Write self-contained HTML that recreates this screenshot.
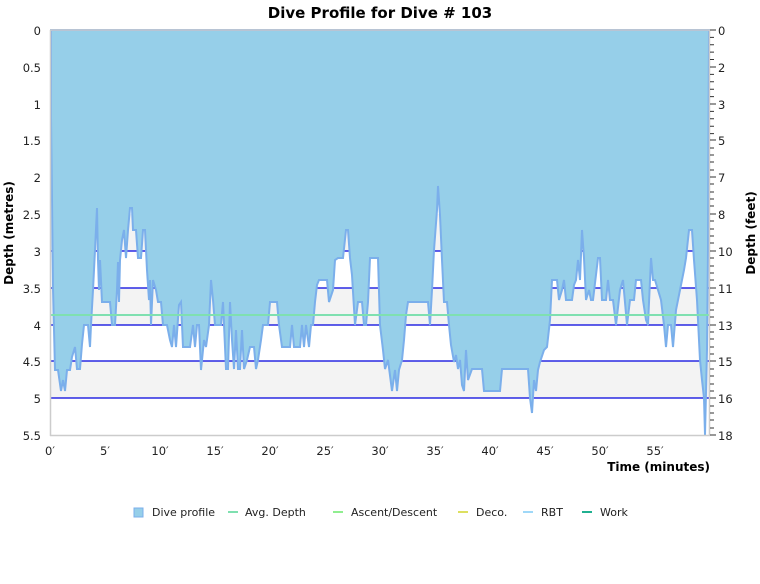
<!DOCTYPE html>
<html><head><meta charset="utf-8"><style>
body{margin:0;background:#fff;font-family:"DejaVu Sans","Liberation Sans",sans-serif;}
</style></head><body>
<svg width="760" height="580" xmlns="http://www.w3.org/2000/svg" font-family="DejaVu Sans, Liberation Sans, sans-serif">
<rect width="760" height="580" fill="#fff"/>
<text x="380" y="18" text-anchor="middle" font-size="15" font-weight="bold">Dive Profile for Dive # 103</text>
<rect x="51" y="214" width="658" height="37" fill="#f3f3f3"/>
<rect x="51" y="288" width="658" height="37" fill="#f3f3f3"/>
<rect x="51" y="361" width="658" height="37" fill="#f3f3f3"/>
<g stroke="#0000dd" stroke-width="1.3">
<line x1="51" y1="251" x2="709" y2="251"/><line x1="51" y1="288" x2="709" y2="288"/>
<line x1="51" y1="325" x2="709" y2="325"/><line x1="51" y1="361" x2="709" y2="361"/>
<line x1="51" y1="398" x2="709" y2="398"/>
</g>
<polygon fill="#96cfe9" stroke="#7bafeb" stroke-width="2" stroke-linejoin="miter" points="51,30 51,118 52,200 53,288 55,370 58,370 61,391 63,380 65,391 67,370 70,370 72,357 75,347 77,369 80,369 82,344 84,325 88,325 90,347 91,325 93,290 95,250 97,208 98,260 99,290 100,260 102,302 110,302 112,325 115,325 117,290 118,262 119,302 120,260 122,240 124,230 126,258 128,230 130,208 132,208 133,230 136,230 138,258 141,258 143,230 145,230 147,270 149,300 150,280 151,325 153,280 156,290 158,302 161,302 163,325 167,325 170,340 172,347 174,325 176,347 179,305 181,302 183,347 190,347 193,325 195,347 197,325 199,325 201,370 204,340 206,347 209,325 211,280 213,300 215,325 221,325 223,302 226,369 228,369 230,302 232,340 234,369 236,330 238,369 240,369 242,330 244,369 247,360 250,347 254,347 256,369 258,360 261,340 263,325 268,325 270,302 277,302 279,325 282,347 290,347 292,325 294,347 300,347 302,325 304,347 306,325 309,347 311,325 313,325 315,302 317,285 319,280 327,280 329,302 333,290 335,260 338,258 343,258 346,230 348,230 350,258 352,275 355,325 358,302 362,302 364,325 366,325 368,302 370,258 378,258 380,325 383,350 385,369 388,360 392,391 395,370 397,391 399,370 402,360 404,340 406,315 408,302 428,302 430,325 432,290 434,250 437,210 438,186 440,215 442,260 444,302 447,302 449,325 451,345 454,362 456,355 458,369 460,360 462,385 464,391 466,350 468,380 472,369 482,369 484,391 500,391 502,369 528,369 530,398 532,413 534,380 536,391 538,370 540,362 544,350 547,347 550,320 552,280 557,280 559,300 562,290 564,280 566,300 572,300 574,285 576,280 578,260 580,280 582,230 584,258 586,300 589,290 591,300 593,300 598,258 600,258 602,300 606,300 608,280 610,300 613,300 616,325 620,290 623,280 627,325 630,300 634,300 636,280 641,280 643,300 646,320 648,325 651,258 653,280 655,280 661,300 664,325 666,347 668,325 671,325 673,347 676,310 680,290 684,270 686,258 689,230 692,230 694,260 697,300 700,360 702,380 704,398 705,435 707,350 708,250 709,30"/>
<line x1="51" y1="315" x2="709" y2="315" stroke="#7fe0b0" stroke-width="2"/>
<g stroke="#ccc" stroke-width="1.5" fill="none">
<line x1="50.5" y1="30" x2="50.5" y2="436"/><line x1="50" y1="435.5" x2="710" y2="435.5"/>
<line x1="709.5" y1="30" x2="709.5" y2="436"/><line x1="50" y1="30" x2="710" y2="30"/>
</g>
<g font-size="11.5" fill="#222" text-anchor="end">
<text x="41" y="35">0</text><text x="41" y="72">0.5</text><text x="41" y="109">1</text>
<text x="41" y="145">1.5</text><text x="41" y="182">2</text><text x="41" y="219">2.5</text>
<text x="41" y="256">3</text><text x="41" y="293">3.5</text><text x="41" y="330">4</text>
<text x="41" y="366">4.5</text><text x="41" y="403">5</text><text x="41" y="440">5.5</text>
</g>
<g stroke="#333" stroke-width="1">
<path d="M710 30h6M710 67h6M710 104h6M710 140h6M710 177h6M710 214h6M710 251h6M710 288h6M710 325h6M710 361h6M710 398h6M710 435h6"/>
<path d="M710 37.4h4M710 44.7h4M710 52.1h4M710 59.5h4M710 74.4h4M710 81.8h4M710 89.2h4M710 96.6h4M710 111.4h4M710 118.8h4M710 126.2h4M710 133.6h4M710 148h4M710 155h4M710 162h4M710 170h4M710 184h4M710 192h4M710 199h4M710 206h4M710 221h4M710 229h4M710 236h4M710 243h4M710 258h4M710 266h4M710 273h4M710 280h4M710 295h4M710 303h4M710 310h4M710 317h4M710 332h4M710 339h4M710 347h4M710 354h4M710 369h4M710 376h4M710 384h4M710 391h4M710 406h4M710 413h4M710 420h4M710 428h4"/>
</g>
<g font-size="11.5" fill="#222">
<text x="718" y="35">0</text><text x="718" y="72">2</text><text x="718" y="109">3</text>
<text x="718" y="145">5</text><text x="718" y="182">7</text><text x="718" y="219">8</text>
<text x="718" y="256">10</text><text x="718" y="293">11</text><text x="718" y="330">13</text>
<text x="718" y="366">15</text><text x="718" y="403">16</text><text x="718" y="440">18</text>
</g>
<g font-size="11.5" fill="#222" text-anchor="middle">
<text x="50" y="455">0′</text><text x="105" y="455">5′</text><text x="160" y="455">10′</text>
<text x="215" y="455">15′</text><text x="270" y="455">20′</text><text x="325" y="455">25′</text>
<text x="380" y="455">30′</text><text x="435" y="455">35′</text><text x="490" y="455">40′</text>
<text x="545" y="455">45′</text><text x="600" y="455">50′</text><text x="655" y="455">55′</text>
</g>
<text x="710" y="471" text-anchor="end" font-size="12" font-weight="bold">Time (minutes)</text>
<text transform="translate(13,233) rotate(-90)" text-anchor="middle" font-size="12" font-weight="bold">Depth (metres)</text>
<text transform="translate(755,233) rotate(-90)" text-anchor="middle" font-size="12" font-weight="bold">Depth (feet)</text>
<g font-size="11" fill="#222">
<rect x="134" y="508" width="9" height="9" fill="#96cfe9" stroke="#7bafeb"/><text x="152" y="516">Dive profile</text>
<rect x="228" y="511" width="10" height="2" fill="#7fe0b0"/><text x="245" y="516">Avg. Depth</text>
<rect x="333" y="511" width="10" height="2" fill="#90ee90"/><text x="351" y="516">Ascent/Descent</text>
<rect x="458" y="511" width="10" height="2" fill="#dde060"/><text x="476" y="516">Deco.</text>
<rect x="523" y="511" width="10" height="2" fill="#9fd8f8"/><text x="541" y="516">RBT</text>
<rect x="582" y="511" width="10" height="2" fill="#20b090"/><text x="600" y="516">Work</text>
</g>
</svg>
</body></html>
